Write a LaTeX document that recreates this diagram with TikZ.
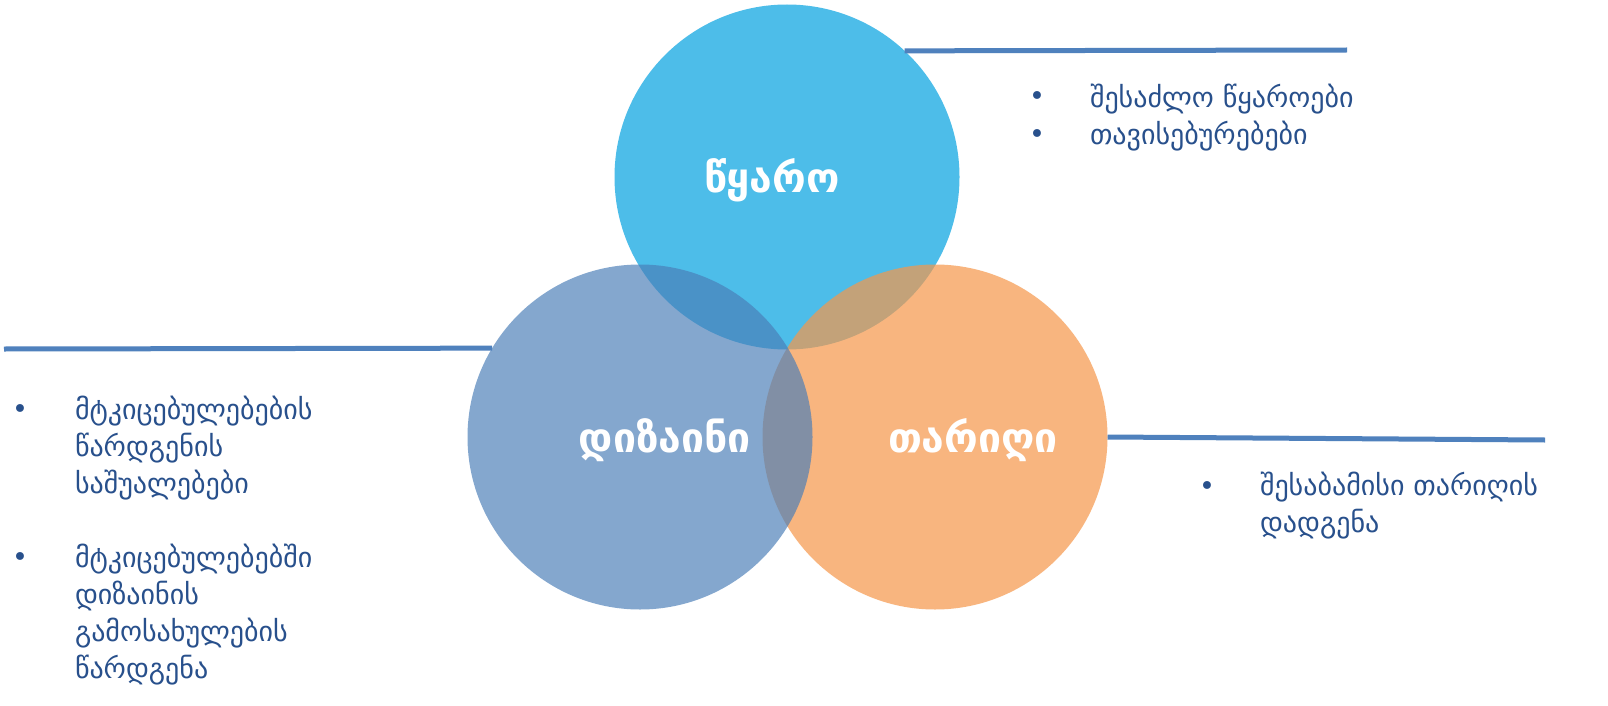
\documentclass[tikz,border=0pt]{standalone}
\usepackage{fontspec}
\setmainfont{DejaVu Sans}
\definecolor{cyanc}{RGB}{77,189,233}
\definecolor{bluec}{RGB}{74,126,184}
\definecolor{orangec}{RGB}{246,151,74}
\definecolor{lineblue}{RGB}{79,129,189}
\definecolor{txtblue}{RGB}{40,80,140}
\begin{document}
\begin{tikzpicture}[x=1pt,y=-1pt,
  every node/.style={inner sep=0pt,outer sep=0pt},
  venn/.style={circle,minimum size=345pt},
  hline/.style={draw=lineblue,line width=5pt},
  bul/.style={anchor=base,text=txtblue,font=\fontsize{27}{27}\selectfont},
  item/.style={anchor=base west,align=left,text=txtblue,font=\fontsize{28}{37}\selectfont},
  lbl/.style={text=white,font=\bfseries\fontsize{41}{44}\selectfont}]
\fill[white] (0,0) rectangle (1608,706);
\useasboundingbox (0,0) rectangle (1608,706);
% circles
\node[venn,fill=cyanc] (top) at (787,177) {};
\node[venn,fill=orangec,fill opacity=0.7] (right) at (935,437) {};
\node[venn,fill=bluec,fill opacity=0.68] (left) at (640,437) {};
% labels
\node[lbl] (ltop) at (772,180) {წყარო};
\node[lbl] (lleft) at (665,440) {დიზაინი};
\node[lbl] (lright) at (973,440) {თარიღი};
% lines
\coordinate (e1) at (1347,50);
\coordinate (e2) at (4,349);
\coordinate (e3) at (1545,440);
\draw[hline] (top.47.6) -- (e1);
\draw[hline] (left.149.4) -- (e2);
\draw[hline] (right.east) -- (e3);
% top-right list
\node[bul] (b1) at (1037,106) {•};
\node[item] (t1) at (1090,145) {შესაძლო წყაროები\\თავისებურებები};
\node[bul] (b2) at (1037,143) {•};
% left list
\node[bul] (b3) at (20,418) {•};
\node[item] (t3) at (75,493) {მტკიცებულებების\\წარდგენის\\საშუალებები};
\node[bul] (b4) at (20,566) {•};
\node[item] (t4) at (75,678) {მტკიცებულებებში\\დიზაინის\\გამოსახულების\\წარდგენა};
% right list
\node[bul] (b5) at (1207,495) {•};
\node[item] (t5) at (1260,532) {შესაბამისი თარიღის\\დადგენა};
\end{tikzpicture}
\end{document}
